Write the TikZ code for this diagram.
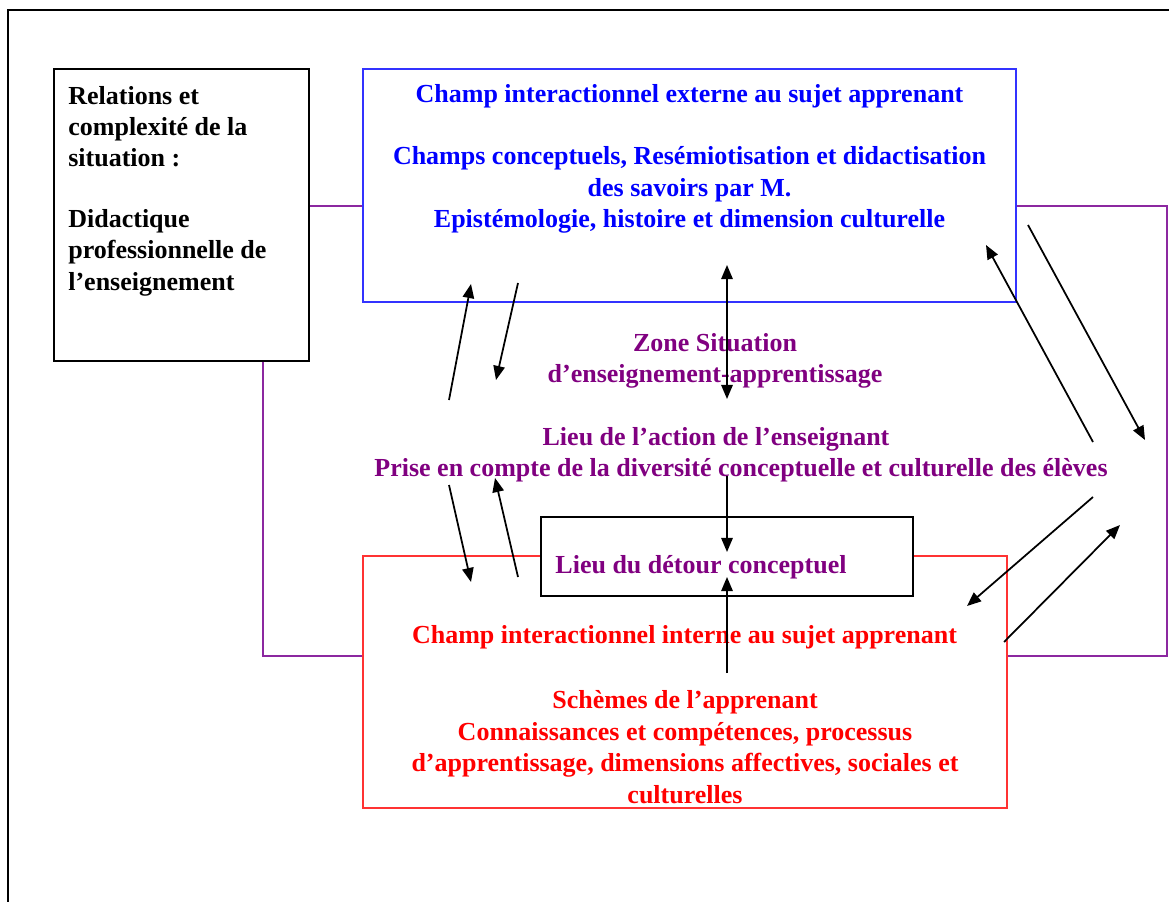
\documentclass[tikz,border=0pt]{standalone}
\usepackage{fontspec}
\setmainfont{Liberation Serif}
\usetikzlibrary{arrows.meta}
\definecolor{txtblue}{RGB}{0,0,255}
\definecolor{lineblue}{RGB}{51,51,255}
\definecolor{txtred}{RGB}{255,0,0}
\definecolor{linered}{RGB}{255,51,51}
\definecolor{txtpurple}{RGB}{128,0,128}
\definecolor{linepurple}{RGB}{140,40,160}
\begin{document}
\begin{tikzpicture}[x=0.02cm,y=-0.02cm,
  txt/.style={font=\bfseries\fontsize{14.8}{17.9}\selectfont, inner sep=0pt},
  framebox/.style={draw, line width=1.1pt, inner sep=0pt},
  link/.style={draw=linepurple, line width=1.1pt},
  flow/.style={draw=black, line width=1pt, -{Triangle[length=8pt,width=6.5pt]}},
  biflow/.style={draw=black, line width=1pt, {Triangle[length=8pt,width=6.5pt]}-{Triangle[length=8pt,width=6.5pt]}}]

% page extent
\useasboundingbox (0,0) rectangle (1169,902);

% outer frame (top and left edges visible)
\coordinate (fbl) at (8,902);
\coordinate (ftl) at (8,10);
\coordinate (ftr) at (1169,10);
\draw[line width=1.1pt] (fbl) -- (ftl) -- (ftr);

% main boxes
\node[framebox, minimum width=5.1cm, minimum height=5.84cm] (rel) at (181.5,215) {};
\node[framebox, draw=lineblue, minimum width=13.06cm, minimum height=4.66cm] (ext) at (689.5,185.5) {};
\node[framebox, draw=linered, minimum width=12.88cm, minimum height=5.04cm] (int) at (685,682) {};

% purple links between the boxes
\coordinate (yA) at (0,206);
\coordinate (pr) at (1167,206);
\coordinate (pb) at (1167,656);
\coordinate (xL) at (263,0);
\coordinate (lb) at (263,656);
\draw[link] (rel.east |- yA) -- (ext.west |- yA);
\draw[link] (ext.east |- yA) -- (pr) -- (pb) -- (int.east |- pb);
\draw[link] (rel.south -| xL) -- (lb) -- (int.west |- lb);

% detour box sits over the red frame
\node[framebox, fill=white, minimum width=7.44cm, minimum height=1.58cm] (det) at (727,556.5) {};

% texts
\node[txt, align=left, anchor=west] (reltxt) at (68,191)
  {Relations et\\complexité de la\\situation :\\[16.5pt]Didactique\\professionnelle de\\l’enseignement};

\node[txt, text=txtblue] (ext1) at (689.5,96) {Champ interactionnel externe au sujet apprenant};
\node[txt, text=txtblue, align=center] (ext2) at (689.5,190)
  {Champs conceptuels, Resémiotisation et didactisation\\des savoirs par M.\\Epistémologie, histoire et dimension culturelle};

\node[txt, text=txtpurple, align=center] (zone) at (715,361) {Zone Situation\\d’enseignement-apprentissage};
\node[txt, text=txtpurple] (lieu) at (716,439) {Lieu de l’action de l’enseignant};
\node[txt, text=txtpurple] (prise) at (741,470) {Prise en compte de la diversité conceptuelle et culturelle des élèves};
\node[txt, text=txtpurple] (dettxt) at (701,567) {Lieu du détour conceptuel};

\node[txt, text=txtred] (int1) at (684.5,637) {Champ interactionnel interne au sujet apprenant};
\node[txt, text=txtred, align=center] (int2) at (685,747)
  {Schèmes de l’apprenant\\Connaissances et compétences, processus\\d’apprentissage, dimensions affectives, sociales et\\culturelles};

% arrow end points
\coordinate (a1s) at (449,400); \coordinate (a1e) at (471,284);
\coordinate (a2s) at (518,283); \coordinate (a2e) at (496,380);
\coordinate (a3s) at (727,265); \coordinate (a3e) at (727,399);
\coordinate (a4s) at (1093,442); \coordinate (a4e) at (986,245);
\coordinate (a5s) at (1028,225); \coordinate (a5e) at (1145,440);
\coordinate (a6s) at (449,485); \coordinate (a6e) at (471,582);
\coordinate (a7s) at (518,577); \coordinate (a7e) at (495,478);
\coordinate (a8s) at (727,476); \coordinate (a8e) at (727,552);
\coordinate (a9s) at (727,673); \coordinate (a9e) at (727,577);
\coordinate (a10s) at (1093,497); \coordinate (a10e) at (967,606);
\coordinate (a11s) at (1004,642); \coordinate (a11e) at (1120,525);

% arrows
\draw[flow] (a1s) -- (a1e);
\draw[flow] (a2s) -- (a2e);
\draw[biflow] (a3s) -- (a3e);
\draw[flow] (a4s) -- (a4e);
\draw[flow] (a5s) -- (a5e);
\draw[flow] (a6s) -- (a6e);
\draw[flow] (a7s) -- (a7e);
\draw[flow] (a8s) -- (a8e);
\draw[flow] (a9s) -- (a9e);
\draw[flow] (a10s) -- (a10e);
\draw[flow] (a11s) -- (a11e);
\end{tikzpicture}
\end{document}
